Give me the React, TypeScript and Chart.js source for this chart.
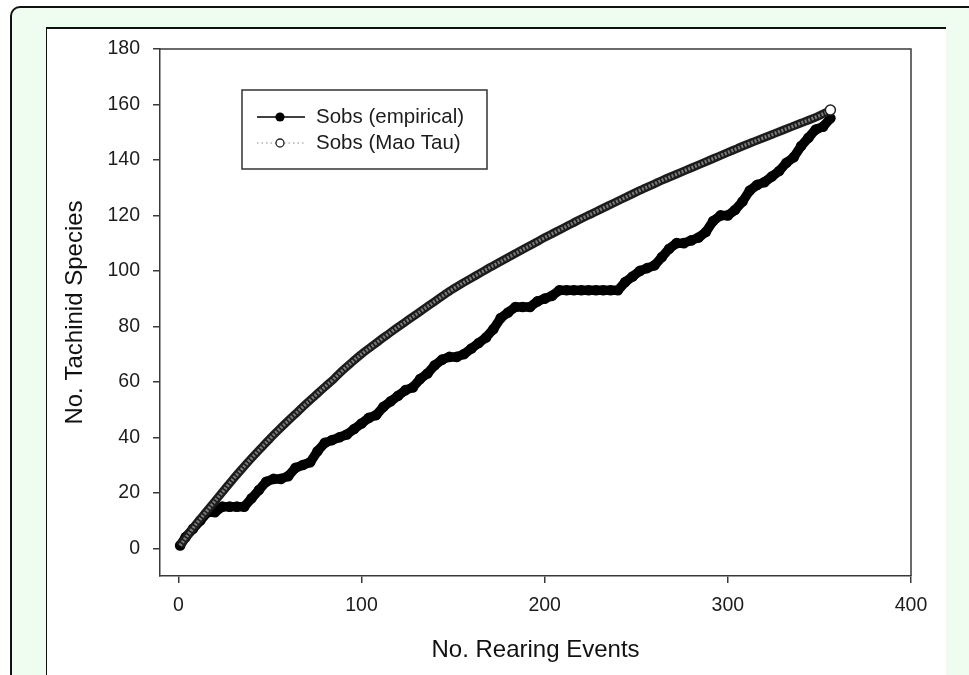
import React, { useEffect, useRef } from "react";
import { Chart, registerables } from "chart.js";

Chart.register(...registerables);

const xTickValues = [0, 100, 200, 300, 400];
const yTickValues = [0, 20, 40, 60, 80, 100, 120, 140, 160, 180];

const seriesLabels = ["Sobs (empirical)", "Sobs (Mao Tau)"];
const xTitle = "No. Rearing Events";
const yTitle = "No. Tachinid Species";

const empiricalX = [
  1, 4, 8, 12, 16, 20, 24, 28, 32, 36, 40, 44, 48, 52, 56, 60, 64, 68, 72, 76,
  80, 84, 88, 92, 96, 100, 104, 108, 112, 116, 120, 124, 128, 132, 136, 140,
  144, 148, 152, 156, 160, 164, 168, 172, 176, 180, 184, 188, 192, 196, 200,
  204, 208, 212, 216, 220, 224, 228, 232, 236, 240, 244, 248, 252, 256, 260,
  264, 268, 272, 276, 280, 284, 288, 292, 296, 300, 304, 308, 312, 316, 320,
  324, 328, 332, 336, 340, 344, 348, 352, 356,
];
const empiricalY = [
  1, 4, 7, 10, 13, 13, 15, 15, 15, 15, 18, 21, 24, 25, 25, 26, 29, 30, 31, 35,
  38, 39, 40, 41, 43, 45, 47, 48, 51, 53, 55, 57, 58, 61, 63, 66,
  68, 69, 69, 70, 72, 74, 76, 79, 83, 85, 87, 87, 87, 89, 90,
  91, 93, 93, 93, 93, 93, 93, 93, 93, 93, 96, 98, 100, 101, 102,
  105, 108, 110, 110, 111, 112, 114, 118, 120, 120, 122, 125, 129, 131, 132,
  134, 136, 139, 141, 145, 148, 151, 152, 155,
];

const maoTauX = [
  1, 5, 10, 15, 20, 25, 30, 35, 40, 45, 50, 55, 60, 65, 70, 75, 80, 85, 90, 95,
  100, 105, 110, 115, 120, 125, 130, 135, 140, 145, 150, 155, 160, 165, 170,
  175, 180, 185, 190, 195, 200, 205, 210, 215, 220, 225, 230, 235, 240, 245,
  250, 255, 260, 265, 270, 275, 280, 285, 290, 295, 300, 305, 310, 315, 320,
  325, 330, 335, 340, 345, 350, 355, 356,
];
const maoTauY = [
  1, 4.6, 9, 13, 17, 21, 25, 28.8, 32.5, 36, 39.5, 42.8, 46, 49.1, 52.2, 55.2,
  58.2, 61.1, 64.3, 67.2, 70, 72.5, 75, 77.4, 79.8, 82.1, 84.4, 86.7, 89, 91.3,
  93.5, 95.5, 97.4, 99.3, 101.2, 103, 104.8, 106.6, 108.4, 110.2, 112, 113.7,
  115.4, 117.1, 118.8, 120.4, 122, 123.6, 125.2, 126.8, 128.4, 129.9, 131.4,
  132.9, 134.3, 135.7, 137.1, 138.5, 139.9, 141.3, 142.7, 144.1, 145.5, 146.8,
  148.1, 149.4, 150.7, 152, 153.3, 154.6, 156, 157.6, 158,
];

const FONT = "'Liberation Sans', Arial, Helvetica, sans-serif";
const AXIS_COLOR = "#3a3a3a";

const framePlugin = {
  id: "frameAndLegend",
  afterDatasetsDraw(chart: any) {
    const { ctx, chartArea: a } = chart;
    ctx.save();
    ctx.strokeStyle = AXIS_COLOR;
    ctx.lineWidth = 1.5;
    ctx.beginPath();
    ctx.moveTo(a.left, a.top);
    ctx.lineTo(a.right, a.top);
    ctx.lineTo(a.right, a.bottom);
    ctx.stroke();

    const bx = a.left + 82;
    const by = a.top + 41;
    const bw = 245;
    const bh = 79;
    ctx.fillStyle = "#ffffff";
    ctx.fillRect(bx, by, bw, bh);
    ctx.strokeStyle = "#333";
    ctx.lineWidth = 1.5;
    ctx.strokeRect(bx, by, bw, bh);

    const y1 = by + 27;
    const y2 = by + 53;
    ctx.strokeStyle = "#000";
    ctx.lineWidth = 1.6;
    ctx.beginPath();
    ctx.moveTo(bx + 15, y1);
    ctx.lineTo(bx + 63, y1);
    ctx.stroke();
    ctx.fillStyle = "#000";
    ctx.beginPath();
    ctx.arc(bx + 38, y1, 4.6, 0, Math.PI * 2);
    ctx.fill();

    ctx.strokeStyle = "#8a8a8a";
    ctx.lineWidth = 1.2;
    ctx.setLineDash([1.5, 3]);
    ctx.beginPath();
    ctx.moveTo(bx + 15, y2);
    ctx.lineTo(bx + 63, y2);
    ctx.stroke();
    ctx.setLineDash([]);
    ctx.fillStyle = "#fff";
    ctx.strokeStyle = "#222";
    ctx.lineWidth = 1.3;
    ctx.beginPath();
    ctx.arc(bx + 38, y2, 4, 0, Math.PI * 2);
    ctx.fill();
    ctx.stroke();

    ctx.font = `20.5px ${FONT}`;
    ctx.fillStyle = "#1c1c1c";
    ctx.textBaseline = "middle";
    ctx.textAlign = "left";
    ctx.fillText(seriesLabels[0], bx + 74, y1);
    ctx.fillText(seriesLabels[1], bx + 74, y2);
    ctx.restore();
  },
};

export default function App() {
  const canvasRef = useRef<HTMLCanvasElement | null>(null);

  useEffect(() => {
    if (!canvasRef.current) return;
    const empiricalPts = empiricalX.map((x, i) => ({ x, y: empiricalY[i] }));
    const maoPts = maoTauX.map((x, i) => ({ x, y: maoTauY[i] }));
    const lastIdx = maoPts.length - 1;

    const chart = new Chart(canvasRef.current, {
      type: "line",
      data: {
        datasets: [
          {
            label: seriesLabels[1] + " inner",
            data: maoPts,
            borderColor: "#7a7a7a",
            borderWidth: 3.5,
            borderDash: [2, 1.6],
            cubicInterpolationMode: "monotone",
            pointRadius: (c: any) => (c.dataIndex === lastIdx ? 5 : 0),
            pointBackgroundColor: "#ffffff",
            pointBorderColor: "#222",
            pointBorderWidth: 1.5,
            order: 0,
          },
          {
            label: seriesLabels[1],
            data: maoPts,
            borderColor: "#1c1c1c",
            borderWidth: 8.5,
            cubicInterpolationMode: "monotone",
            pointRadius: 0,
            order: 1,
          },
          {
            label: seriesLabels[0],
            data: empiricalPts,
            borderColor: "#000",
            borderWidth: 9.5,
            borderJoinStyle: "round",
            borderCapStyle: "round",
            pointRadius: 5.3,
            pointBackgroundColor: "#000",
            pointBorderWidth: 0,
            order: 2,
          },
        ],
      },
      options: {
        responsive: false,
        animation: false,
        layout: { padding: { left: 0, top: 49, right: 58, bottom: 0 } },
        plugins: {
          legend: { display: false },
          tooltip: { enabled: false },
        },
        scales: {
          x: {
            type: "linear",
            min: -10,
            max: 400,
            afterBuildTicks: (s: any) => {
              s.ticks = xTickValues.map((v) => ({ value: v }));
            },
            afterFit: (s: any) => {
              s.height = 99;
            },
            grid: {
              drawOnChartArea: false,
              drawTicks: true,
              tickLength: 7,
              color: AXIS_COLOR,
              lineWidth: 1.5,
            },
            border: { display: true, color: AXIS_COLOR, width: 1.5 },
            ticks: {
              color: "#1c1c1c",
              font: { size: 19.5, family: FONT },
              padding: 11,
              maxRotation: 0,
              autoSkip: false,
            },
            title: {
              display: true,
              text: xTitle,
              color: "#111",
              font: { size: 24, family: FONT },
              padding: { top: 0, bottom: 10.6 },
            },
          },
          y: {
            type: "linear",
            min: -10,
            max: 180,
            afterBuildTicks: (s: any) => {
              s.ticks = yTickValues.map((v) => ({ value: v }));
            },
            afterFit: (s: any) => {
              s.width = 160;
            },
            grid: {
              drawOnChartArea: false,
              drawTicks: true,
              tickLength: 7,
              color: AXIS_COLOR,
              lineWidth: 1.5,
            },
            border: { display: true, color: AXIS_COLOR, width: 1.5 },
            ticks: {
              color: "#1c1c1c",
              font: { size: 19.5, family: FONT },
              padding: 13,
              autoSkip: false,
            },
            title: {
              display: true,
              text: yTitle,
              color: "#111",
              font: { size: 24, family: FONT },
              padding: { top: 60.6, bottom: 0 },
            },
          },
        },
      },
      plugins: [framePlugin],
    } as any);

    return () => chart.destroy();
  }, []);

  return (
    <div
      style={{
        position: "fixed",
        left: 0,
        top: 0,
        width: 969,
        height: 675,
        overflow: "hidden",
        background: "#ffffff",
      }}
    >
      <div
        style={{
          position: "absolute",
          left: 10,
          top: 6,
          width: 1000,
          height: 720,
          border: "2px solid #111",
          borderRadius: 10,
          background: "#eefdef",
          boxSizing: "border-box",
        }}
      />
      <div
        style={{
          position: "absolute",
          left: 46,
          top: 27,
          width: 900,
          height: 720,
          background: "#ffffff",
          borderTop: "2px solid #111",
          borderLeft: "1px solid #111",
          boxSizing: "border-box",
        }}
      />
      <canvas
        ref={canvasRef}
        width={969}
        height={675}
        style={{ position: "absolute", left: 0, top: 0, width: 969, height: 675 }}
      />
    </div>
  );
}
